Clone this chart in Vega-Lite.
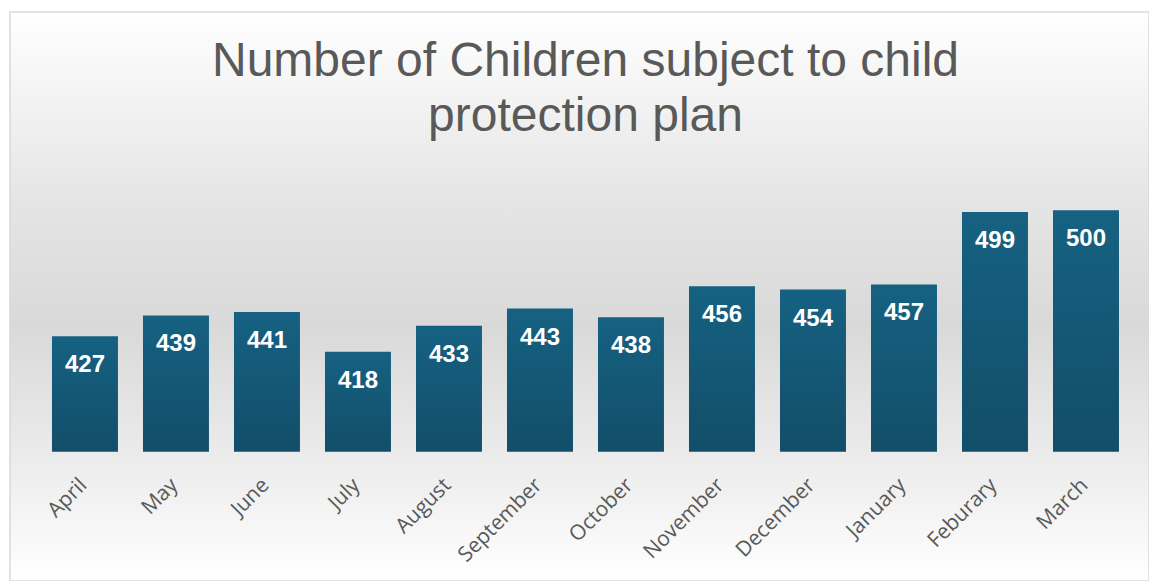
{
  "$schema": "https://vega.github.io/schema/vega-lite/v6.json",
  "autosize": {"type": "none"},
  "width": 1139,
  "height": 569,
  "padding": {"left": 10, "top": 12, "right": 0, "bottom": 0},
  "background": "#ffffff",
  "title": {
    "text": ["Number of Children subject to child", "protection plan"],
    "orient": "top",
    "anchor": "middle",
    "frame": "group",
    "baseline": "top",
    "offset": -22,
    "dy": 107,
    "dx": 6,
    "font": "Liberation Sans",
    "fontSize": 48,
    "fontWeight": "normal",
    "color": "#595959",
    "lineHeight": 55
  },
  "data": {
    "values": [
      {"month": "April", "children": 427},
      {"month": "May", "children": 439},
      {"month": "June", "children": 441},
      {"month": "July", "children": 418},
      {"month": "August", "children": 433},
      {"month": "September", "children": 443},
      {"month": "October", "children": 438},
      {"month": "November", "children": 456},
      {"month": "December", "children": 454},
      {"month": "January", "children": 457},
      {"month": "Feburary", "children": 499},
      {"month": "March", "children": 500}
    ]
  },
  "encoding": {
    "x": {
      "field": "month",
      "type": "nominal",
      "sort": null,
      "title": null,
      "scale": {"paddingInner": 0.275, "paddingOuter": 0.3956, "align": 0.583},
      "axis": {
        "offset": -129,
        "domain": false,
        "ticks": false,
        "labelAngle": -45,
        "labelFont": "Open Sans",
        "labelFontSize": 21,
        "labelColor": "#595959",
        "labelPadding": 22,
        "labelOffset": -9
      }
    },
    "y": {
      "field": "children",
      "type": "quantitative",
      "scale": {"domain": [285, 615], "nice": false, "zero": false},
      "axis": null
    }
  },
  "layer": [
    {
      "mark": {
        "type": "bar",
        "fill": {
          "gradient": "linear",
          "x1": 0, "y1": 0, "x2": 0, "y2": 1,
          "stops": [
            {"offset": 0, "color": "#166182"},
            {"offset": 1, "color": "#124e69"}
          ]
        }
      },
      "encoding": {"y2": {"datum": 360}}
    },
    {
      "mark": {
        "type": "text",
        "baseline": "middle",
        "dy": 29,
        "font": "Liberation Sans",
        "fontSize": 24,
        "fontWeight": "bold",
        "color": "#ffffff"
      },
      "encoding": {"text": {"field": "children", "type": "quantitative"}}
    }
  ],
  "config": {
    "view": {
      "stroke": "#d9d9d9",
      "strokeWidth": 1.5,
      "fill": {
        "gradient": "linear",
        "x1": 0, "y1": 0, "x2": 0, "y2": 1,
        "stops": [
          {"offset": 0, "color": "#ffffff"},
          {"offset": 0.33, "color": "#e5e5e5"},
          {"offset": 0.55, "color": "#d9d9d9"},
          {"offset": 0.78, "color": "#ebebeb"},
          {"offset": 1, "color": "#ffffff"}
        ]
      }
    }
  }
}
